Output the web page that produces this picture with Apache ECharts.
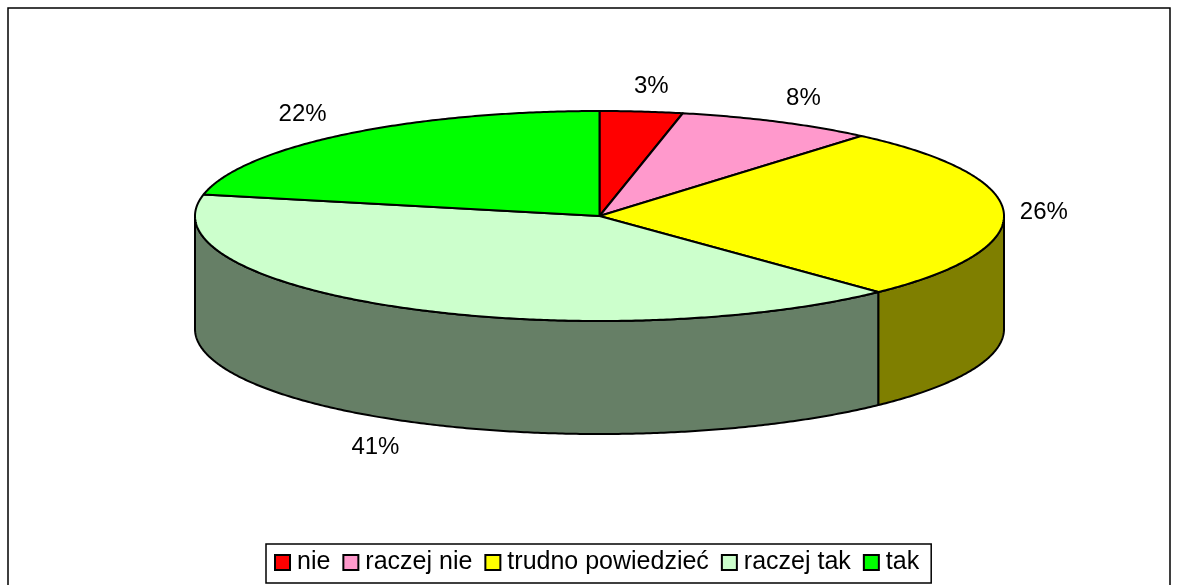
<!DOCTYPE html>
<html><head><meta charset="utf-8">
<style>html,body{margin:0;padding:0;background:#fff;overflow:hidden}#c{width:1179px;height:585px}</style>
<script src="https://cdn.jsdelivr.net/npm/echarts@6/dist/echarts.min.js"></script>
</head><body><div id="c"></div>
<script>
const categories = ['nie', 'raczej nie', 'trudno powiedzieć', 'raczej tak', 'tak'];
const sliceShares = [3.3, 7.9, 26.7, 40.4, 21.7];
const percentLabels = ['3%', '8%', '26%', '41%', '22%'];
const colors = ['#ff0000', '#ff99cc', '#ffff00', '#ccffcc', '#00ff00'];

const pie = { cx: 599.5, cy: 216, rx: 404.5, ry: 105, depth: 113, line: 2 };
const labelNudge = [[10, -25], [26, -23], [40, -1], [-27, 140], [-42, -20]];
const total = sliceShares.reduce((a, b) => a + b, 0);
const point = (deg, drop) => {
  const t = deg * Math.PI / 180;
  return [pie.cx + pie.rx * Math.sin(t), pie.cy - pie.ry * Math.cos(t) + (drop || 0)];
};
const arc = (from, to, drop) => {
  const out = [], n = Math.max(1, Math.ceil((to - from) * 2));
  for (let i = 0; i <= n; i++) out.push(point(from + (to - from) * i / n, drop));
  return out;
};
const shade = hex => {
  const v = parseInt(hex.slice(1), 16);
  return `rgb(${(v >> 16) >> 1},${((v >> 8) & 255) >> 1},${(v & 255) >> 1})`;
};
const renderSlice = idx => (params, api) => {
  const share = api.value(0);
  const before = sliceShares.slice(0, idx).reduce((a, b) => a + b, 0);
  const a0 = before / total * 360, a1 = a0 + share / total * 360, mid = (a0 + a1) / 2;
  const children = [];
  const w0 = Math.max(a0, 90), w1 = Math.min(a1, 270);
  if (w1 > w0) {
    children.push({
      type: 'polygon', z2: 1,
      shape: { points: arc(w0, w1, 0).concat(arc(w0, w1, pie.depth).reverse()) },
      style: { fill: shade(colors[idx]), stroke: '#000', lineWidth: pie.line, lineJoin: 'round' }
    });
  }
  children.push({
    type: 'polygon', z2: 2,
    shape: { points: [[pie.cx, pie.cy]].concat(arc(a0, a1, 0)) },
    style: { fill: colors[idx], stroke: '#000', lineWidth: pie.line, lineJoin: 'round' }
  });
  const p = point(mid, 0);
  children.push({
    type: 'text', z2: 3,
    style: {
      x: p[0] + labelNudge[idx][0], y: p[1] + labelNudge[idx][1],
      text: percentLabels[idx], fill: '#000',
      font: '24px "Liberation Sans", Arial, sans-serif',
      textAlign: 'center', textVerticalAlign: 'middle'
    }
  });
  return { type: 'group', children };
};

const chart = echarts.init(document.getElementById('c'), null, { renderer: 'canvas' });
chart.setOption({
  animation: false,
  backgroundColor: '#fff',
  graphic: [{
    type: 'rect', silent: true, z: -1,
    shape: { x: 8, y: 8, width: 1162, height: 600 },
    style: { fill: '#fff', stroke: '#000', lineWidth: 1.5 }
  }],
  legend: {
    left: 266, top: 544, orient: 'horizontal',
    data: categories,
    icon: 'rect', itemWidth: 15, itemHeight: 15, itemGap: 12,
    padding: [6, 12, 8, 8],
    backgroundColor: '#fff', borderColor: '#000', borderWidth: 1.5,
    selectedMode: false,
    itemStyle: { borderColor: '#000', borderWidth: 2 },
    textStyle: { color: '#000', fontSize: 25, fontFamily: '"Liberation Sans", Arial, sans-serif', padding: [0, 0, 0, 2] }
  },
  series: categories.map((name, idx) => ({
    type: 'custom', name,
    coordinateSystem: 'none',
    silent: true,
    itemStyle: { color: colors[idx] },
    data: [[sliceShares[idx]]],
    renderItem: renderSlice(idx)
  }))
});
</script></body></html>
